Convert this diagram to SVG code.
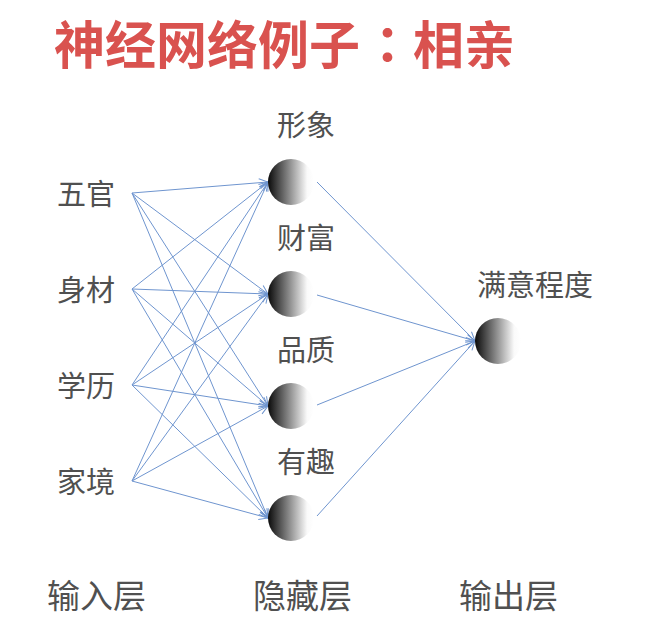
<svg xmlns="http://www.w3.org/2000/svg" width="654" height="617" viewBox="0 0 654 617">
<style>
.title{font-family:"Noto Sans CJK SC","Noto Sans",sans-serif;font-weight:bold;font-size:51px;fill:#d9524f}
.lbl{font-family:"Noto Sans CJK SC","Noto Sans",sans-serif;font-size:29px;fill:#505050}
.layer{font-family:"Noto Sans CJK SC","Noto Sans",sans-serif;font-size:33px;fill:#505050}
.edge{stroke:#6f95cf;stroke-width:1;fill:none;marker-end:url(#arr)}
.node{fill:url(#ball)}
</style>
<defs>
<linearGradient id="ball" x1="0" y1="0" x2="1" y2="0">
<stop offset="0" stop-color="#0a0a0a"/>
<stop offset="0.45" stop-color="#888"/>
<stop offset="0.85" stop-color="#fafafa"/>
<stop offset="1" stop-color="#ffffff"/>
</linearGradient>
<marker id="arr" markerUnits="userSpaceOnUse" markerWidth="14" markerHeight="12" viewBox="-11 -6 12 12" refX="0" refY="0" orient="auto">
<path d="M-9,-4 L0,0 L-9,4" fill="none" stroke="#6f95cf" stroke-width="1"/>
</marker>
</defs>
<text class="title" x="54" y="64">神经网络例子<tspan x="362" style="font-family:'Noto Sans CJK TC','Noto Sans CJK JP',sans-serif">：</tspan><tspan x="413">相亲</tspan></text>
<g id="connectors">
<line class="edge" x1="132" y1="193" x2="268" y2="182"/>
<line class="edge" x1="132" y1="193" x2="268" y2="294"/>
<line class="edge" x1="132" y1="193" x2="268" y2="406"/>
<line class="edge" x1="132" y1="193" x2="268" y2="518"/>
<line class="edge" x1="132" y1="289" x2="268" y2="182"/>
<line class="edge" x1="132" y1="289" x2="268" y2="294"/>
<line class="edge" x1="132" y1="289" x2="268" y2="406"/>
<line class="edge" x1="132" y1="289" x2="268" y2="518"/>
<line class="edge" x1="132" y1="385" x2="268" y2="182"/>
<line class="edge" x1="132" y1="385" x2="268" y2="294"/>
<line class="edge" x1="132" y1="385" x2="268" y2="406"/>
<line class="edge" x1="132" y1="385" x2="268" y2="518"/>
<line class="edge" x1="132" y1="481" x2="268" y2="182"/>
<line class="edge" x1="132" y1="481" x2="268" y2="294"/>
<line class="edge" x1="132" y1="481" x2="268" y2="406"/>
<line class="edge" x1="132" y1="481" x2="268" y2="518"/>
<line class="edge" x1="317" y1="182" x2="475" y2="341"/>
<line class="edge" x1="317" y1="295" x2="475" y2="341"/>
<line class="edge" x1="317" y1="405" x2="475" y2="341"/>
<line class="edge" x1="317" y1="516" x2="475" y2="341"/>
</g>
<g id="in1"><text class="lbl" x="57" y="205">五官</text></g>
<g id="in2"><text class="lbl" x="57" y="301">身材</text></g>
<g id="in3"><text class="lbl" x="57" y="397">学历</text></g>
<g id="in4"><text class="lbl" x="57" y="493">家境</text></g>
<g id="h1"><circle class="node" cx="291" cy="182" r="23"/><text class="lbl" x="277" y="136">形象</text></g>
<g id="h2"><circle class="node" cx="291" cy="294" r="23"/><text class="lbl" x="277" y="249">财富</text></g>
<g id="h3"><circle class="node" cx="291" cy="406" r="23"/><text class="lbl" x="277" y="361">品质</text></g>
<g id="h4"><circle class="node" cx="291" cy="518" r="23"/><text class="lbl" x="277" y="473">有趣</text></g>
<g id="out"><circle class="node" cx="498" cy="341" r="23"/><text class="lbl" x="477" y="296">满意程度</text></g>
<g id="layers">
<text class="layer" x="47" y="608">输入层</text>
<text class="layer" x="253" y="608">隐藏层</text>
<text class="layer" x="459" y="608">输出层</text>
</g>
</svg>
